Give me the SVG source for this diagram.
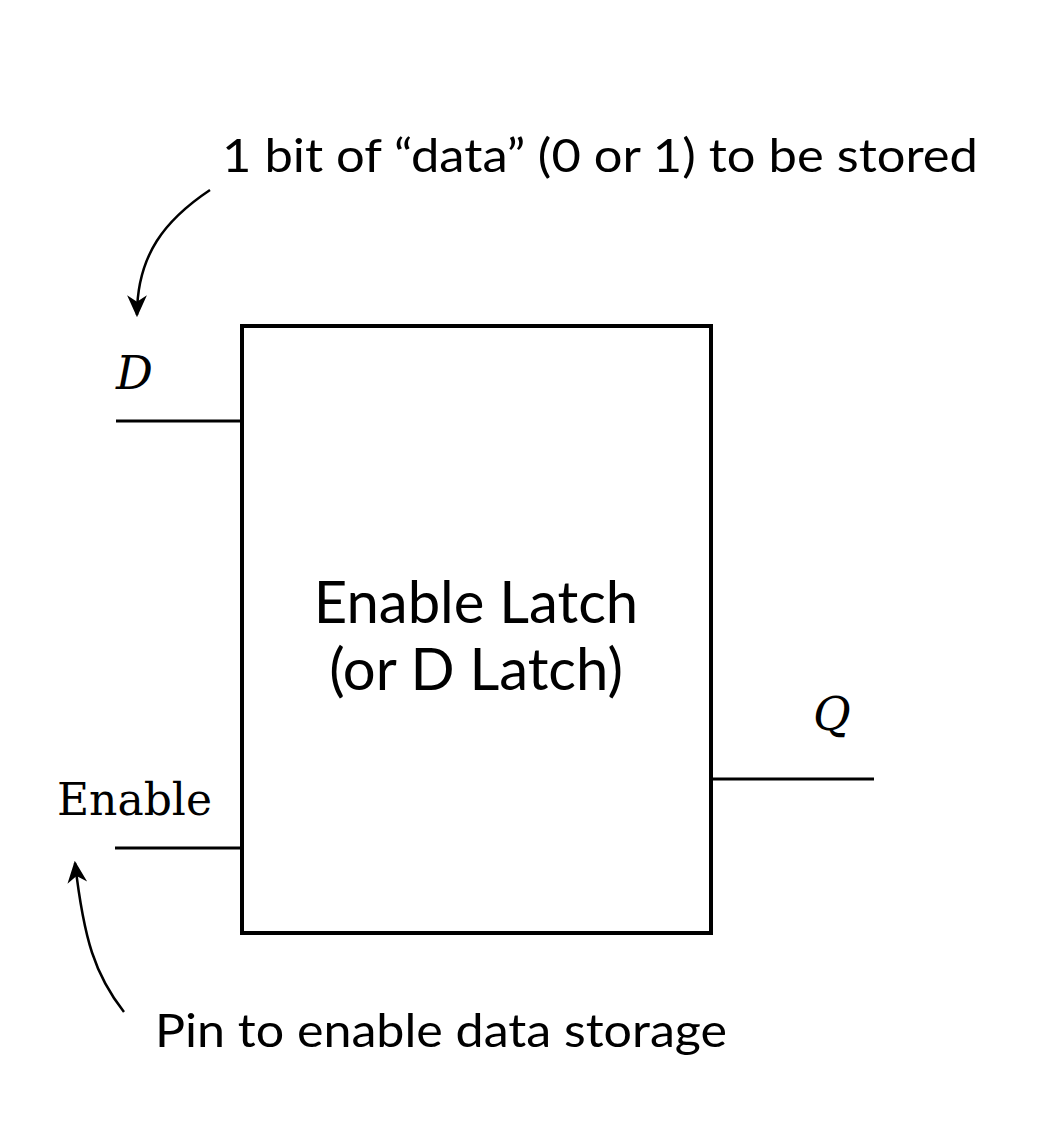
<svg xmlns="http://www.w3.org/2000/svg" width="1056" height="1134" viewBox="0 0 1056 1134">
<style>
.sans{font-family:Lato,"Open Sans","Liberation Sans",sans-serif;fill:#000}
.serif{font-family:"DejaVu Serif","Liberation Serif",serif;fill:#000}
.wire{stroke:#000;stroke-width:3;fill:none}
.curve{stroke:#000;stroke-width:2.5;fill:none}
</style>
<defs>
<marker id="ah" viewBox="0 0 20 20" refX="18" refY="10" markerWidth="22" markerHeight="22" markerUnits="userSpaceOnUse" orient="auto">
<path d="M0,1 L20,10 L0,19 L6,10 Z" fill="#000"/>
</marker>
</defs>
<rect width="1056" height="1134" fill="#fff"/>
<g id="latch">
<rect x="242" y="326" width="469" height="607" fill="none" stroke="#000" stroke-width="4"/>
<text class="sans" x="476" y="623" font-size="58" text-anchor="middle">Enable Latch</text>
<text class="sans" x="476" y="690" font-size="58" text-anchor="middle">(or D Latch)</text>
</g>
<g id="label-data">
<text class="sans" x="222" y="172" font-size="46" textLength="756" lengthAdjust="spacingAndGlyphs">1 bit of “data” (0 or 1) to be stored</text>
</g>
<g id="label-enable-pin">
<text class="sans" x="155" y="1047" font-size="46" textLength="572" lengthAdjust="spacingAndGlyphs">Pin to enable data storage</text>
</g>
<g id="pin-D">
<text class="serif" x="116" y="389" font-size="46" font-style="italic">D</text>
</g>
<g id="pin-Enable">
<text class="serif" x="57" y="815" font-size="44">Enable</text>
</g>
<g id="pin-Q">
<text class="serif" x="813" y="730" font-size="46" font-style="italic">Q</text>
</g>
<g id="connectors">
<line class="wire" x1="116" y1="421" x2="242" y2="421"/>
<line class="wire" x1="115" y1="848" x2="242" y2="848"/>
<line class="wire" x1="711" y1="779" x2="874" y2="779"/>
<path class="curve" d="M210,190 C165,220 137,255 137,315" marker-end="url(#ah)"/>
<path class="curve" d="M124,1012 C95,975 84,940 75,863" marker-end="url(#ah)"/>
</g>
</svg>
